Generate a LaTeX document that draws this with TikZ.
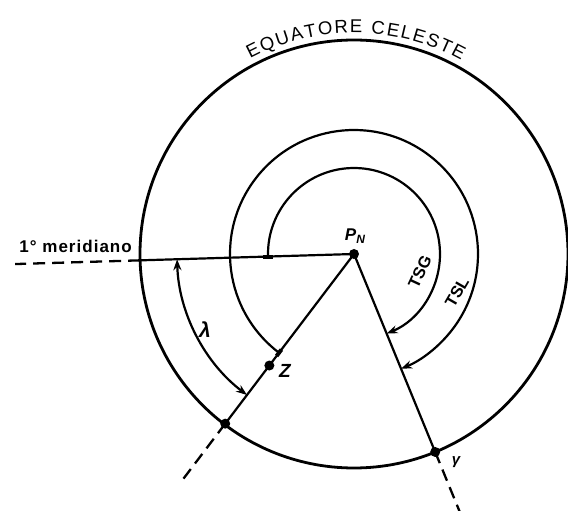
\documentclass[tikz,border=0pt]{standalone}
\usepackage{fontspec}
\setsansfont{Liberation Sans}
\newfontfamily\lblfont[LetterSpace=6]{Liberation Sans}
\usetikzlibrary{arrows.meta,decorations.text,calc}
\begin{document}
\begin{tikzpicture}[x=1pt,y=1pt,
  dot/.style={circle,fill=black,inner sep=0pt,minimum size=10pt},
  ln/.style={line width=2.2pt},
  circ/.style={line width=2.8pt},
  dsh/.style={line width=2.3pt,dash pattern=on 12pt off 7pt},
  arr/.style={line width=2.2pt,-{Stealth[length=11pt,width=8pt]}},
  darr/.style={line width=2.2pt,{Stealth[length=11pt,width=8pt]}-{Stealth[length=11pt,width=8pt]}},
  tick/.style={line width=4pt},
  lbl/.style={font=\sffamily\bfseries\itshape\fontsize{17}{19}\selectfont, inner sep=0pt},
  ulbl/.style={font=\sffamily\bfseries\fontsize{16.5}{18}\selectfont, inner sep=0pt},
]
\useasboundingbox (-354,-257) rectangle (214,254);
% points
\node[dot] (PN) at (0,0) {};
\coordinate (M) at (181.7:214);
\coordinate (Mend) at (181.7:339);
\node[dot] (A) at (232.8:213) {};
\node[dot] (Z) at (232.8:140) {};
\node[dot] (G) at (292.3:214) {};
\coordinate (Aend) at (232.8:284);
\coordinate (Gend) at (292.3:278);
% celestial equator
\draw[circ] (0,0) circle[radius=214];
% meridians
\draw[ln] (PN.center) -- (M);
\draw[dsh] (M) -- (Mend);
\draw[ln] (PN.center) -- (A.center);
\draw[dsh] (A.center) -- (Aend);
\draw[ln] (PN.center) -- (G.center);
\draw[dsh] (G.center) -- (Gend);
% arcs
\draw[arr] (181.7:86) arc[start angle=181.7, end angle=-67.7, radius=86];
\draw[tick] ($(181.7:86)+(-5,0)$) -- ($(181.7:86)+(5,0)$);
\draw[arr] (232.8:124) arc[start angle=232.8, end angle=-67.7, radius=124];
\draw[tick] (232.8:120) -- (232.8:128);
\draw[darr] (181.7:177) arc[start angle=181.7, end angle=232.8, radius=177];
% labels
\node[lbl] (pnl) at (1,18) {P\raisebox{-0.35ex}{\fontsize{12}{13}\selectfont N}};
\node[lbl,font=\sffamily\bfseries\itshape\fontsize{19}{21}\selectfont] (zl) at (-69,-117) {Z};
\node[lbl,font=\sffamily\bfseries\itshape\fontsize{21}{23}\selectfont] (ll) at (-149,-76) {λ};
\node[lbl,font=\sffamily\bfseries\itshape\fontsize{15}{17}\selectfont] (gl) at (102,-208) {γ};
\node[ulbl,rotate=65] (tsg) at (66,-18) {TSG};
\node[ulbl,rotate=60] (tsl) at (103,-38) {TSL};
\node[font=\lblfont\bfseries\fontsize{17}{20}\selectfont, anchor=base east, inner sep=0pt] (mer) at (-222,1) {1° meridiano};
\path[decorate, decoration={text along path,
  text={|\sffamily\fontsize{18.5}{20}\selectfont|EQUATORE CELESTE},
  text align={fit to path}}]
  (118:221) arc[start angle=118, end angle=61, radius=221];
\end{tikzpicture}
\end{document}
